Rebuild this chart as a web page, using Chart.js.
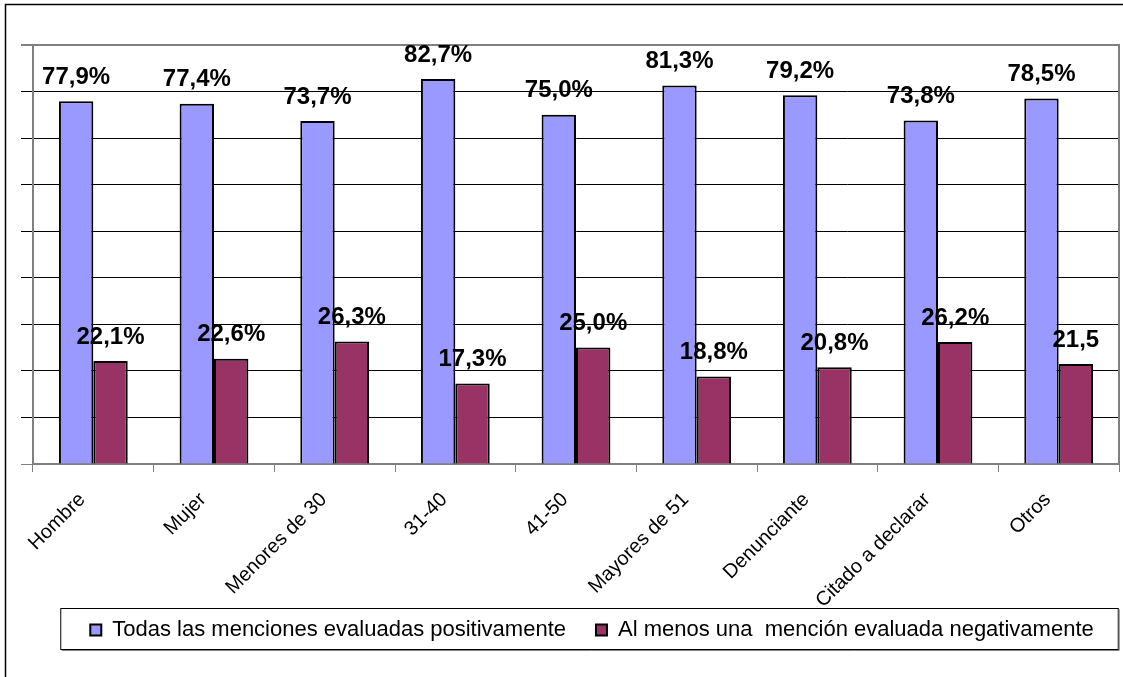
<!DOCTYPE html>
<html>
<head>
<meta charset="utf-8">
<script src="https://cdn.jsdelivr.net/npm/chart.js@4/dist/chart.umd.min.js"></script>
<style>
  html, body { margin: 0; padding: 0; background: #fff; }
  #wrap { width: 1123px; height: 677px; position: relative; }
</style>
</head>
<body>
<div id="wrap"><canvas id="chart"></canvas></div>
<script>
// Chart data
const categories = ['Hombre', 'Mujer', 'Menores de 30', '31-40', '41-50', 'Mayores de 51', 'Denunciante', 'Citado a declarar', 'Otros'];
const seriesNames = ['Todas las menciones evaluadas positivamente', 'Al menos una  mención evaluada negativamente'];
const positiveValues = [77.9, 77.4, 73.7, 82.7, 75.0, 81.3, 79.2, 73.8, 78.5];
const negativeValues = [22.1, 22.6, 26.3, 17.3, 25.0, 18.8, 20.8, 26.2, 21.5];
const positiveLabels = ['77,9%', '77,4%', '73,7%', '82,7%', '75,0%', '81,3%', '79,2%', '73,8%', '78,5%'];
const negativeLabels = ['22,1%', '22,6%', '26,3%', '17,3%', '25,0%', '18,8%', '20,8%', '26,2%', '21,5'];
const yTicks = [0, 10, 20, 30, 40, 50, 60, 70, 80, 90];

const FONT = '"Liberation Sans", Arial, sans-serif';
const GREY = '#808080';

// Outer frame, plot border and legend box
const framePlugin = {
    id: 'frame',
    afterLayout(chart) {
        // legend sits a bit right of centre and higher in the original
        const lg = chart.legend;
        lg.left += 22;
        lg.right += 22;
        lg.top -= 25;
        lg.bottom -= 25;
    },
    beforeDraw(chart) {
        const ctx = chart.ctx;
        ctx.save();
        ctx.strokeStyle = '#000';
        ctx.lineWidth = 1.5;
        ctx.beginPath();
        ctx.moveTo(5.5, chart.height);
        ctx.lineTo(5.5, 4.5);
        ctx.lineTo(chart.width, 4.5);
        ctx.stroke();
        ctx.restore();
    },
    beforeDatasetsDraw(chart) {
        const a = chart.chartArea;
        const ctx = chart.ctx;
        ctx.save();
        ctx.strokeStyle = GREY;
        ctx.lineWidth = 2;
        ctx.beginPath();
        ctx.moveTo(a.left, a.top);
        ctx.lineTo(a.right, a.top);
        ctx.lineTo(a.right, a.bottom);
        ctx.stroke();
        ctx.restore();
    },
    afterDraw(chart) {
        const boxes = chart.legend.legendHitBoxes;
        if (!boxes || !boxes.length) return;
        const first = boxes[0];
        const last = boxes[boxes.length - 1];
        const ctx = chart.ctx;
        ctx.save();
        ctx.strokeStyle = '#000';
        ctx.lineWidth = 1;
        const x1 = first.left - 30, x2 = last.left + last.width + 24;
        const y1 = first.top - 11, y2 = first.top + first.height + 8;
        ctx.strokeRect(x1 + 0.5, y1 + 0.5, x2 - x1, y2 - y1);
        ctx.strokeStyle = GREY;
        ctx.beginPath();
        ctx.moveTo(x1 + 1.5, y2 + 1.5);
        ctx.lineTo(x2 + 1.5, y2 + 1.5);
        ctx.lineTo(x2 + 1.5, y1 + 1.5);
        ctx.stroke();
        ctx.restore();
    }
};

// Value labels above bars
const valueLabels = {
    id: 'valueLabels',
    afterDatasetsDraw(chart) {
        const ctx = chart.ctx;
        const texts = [positiveLabels, negativeLabels];
        ctx.save();
        ctx.font = 'bold 24px ' + FONT;
        ctx.fillStyle = '#000';
        ctx.textAlign = 'center';
        ctx.textBaseline = 'middle';
        chart.data.datasets.forEach((ds, di) => {
            chart.getDatasetMeta(di).data.forEach((bar, i) => {
                ctx.fillText(texts[di][i], bar.x, bar.y - 24);
            });
        });
        ctx.restore();
    }
};

new Chart(document.getElementById('chart'), {
    type: 'bar',
    data: {
        labels: categories,
        datasets: [
            {
                label: seriesNames[0],
                data: positiveValues,
                backgroundColor: '#9999FF',
                borderColor: '#000',
                borderWidth: 2
            },
            {
                label: seriesNames[1],
                data: negativeValues,
                backgroundColor: '#993366',
                borderColor: '#000',
                borderWidth: 2
            }
        ]
    },
    options: {
        responsive: true,
        maintainAspectRatio: false,
        animation: false,
        categoryPercentage: 0.57,
        barPercentage: 1.0,
        layout: {
            padding: { top: 45, left: 21, right: 4, bottom: 1 }
        },
        plugins: {
            tooltip: { enabled: false },
            legend: {
                position: 'bottom',
                labels: {
                    boxWidth: 11,
                    boxHeight: 11,
                    padding: 30,
                    color: '#000',
                    font: { family: FONT, size: 22 }
                }
            }
        },
        scales: {
            x: {
                offset: true,
                grid: {
                    display: true,
                    offset: true,
                    drawOnChartArea: false,
                    color: GREY,
                    tickLength: 8
                },
                border: { color: GREY, width: 2 },
                ticks: {
                    autoSkip: false,
                    maxRotation: 45,
                    minRotation: 45,
                    padding: 16,
                    labelOffset: -11,
                    color: '#000',
                    font: { family: FONT, size: 20 }
                },
                afterFit(scale) { scale.height = 150; }
            },
            y: {
                min: 0,
                max: 90,
                afterBuildTicks(scale) { scale.ticks = yTicks.map(v => ({ value: v })); },
                grid: {
                    color: c => (c.tick && (c.tick.value === 90 || c.tick.value === 0)) ? GREY : '#000',
                    lineWidth: c => (c.tick && c.tick.value === 90) ? 2 : 1,
                    tickLength: 12,
                    drawTicks: true
                },
                border: { color: GREY, width: 2 },
                ticks: { display: false }
            }
        }
    },
    plugins: [framePlugin, valueLabels]
});
</script>
</body>
</html>
